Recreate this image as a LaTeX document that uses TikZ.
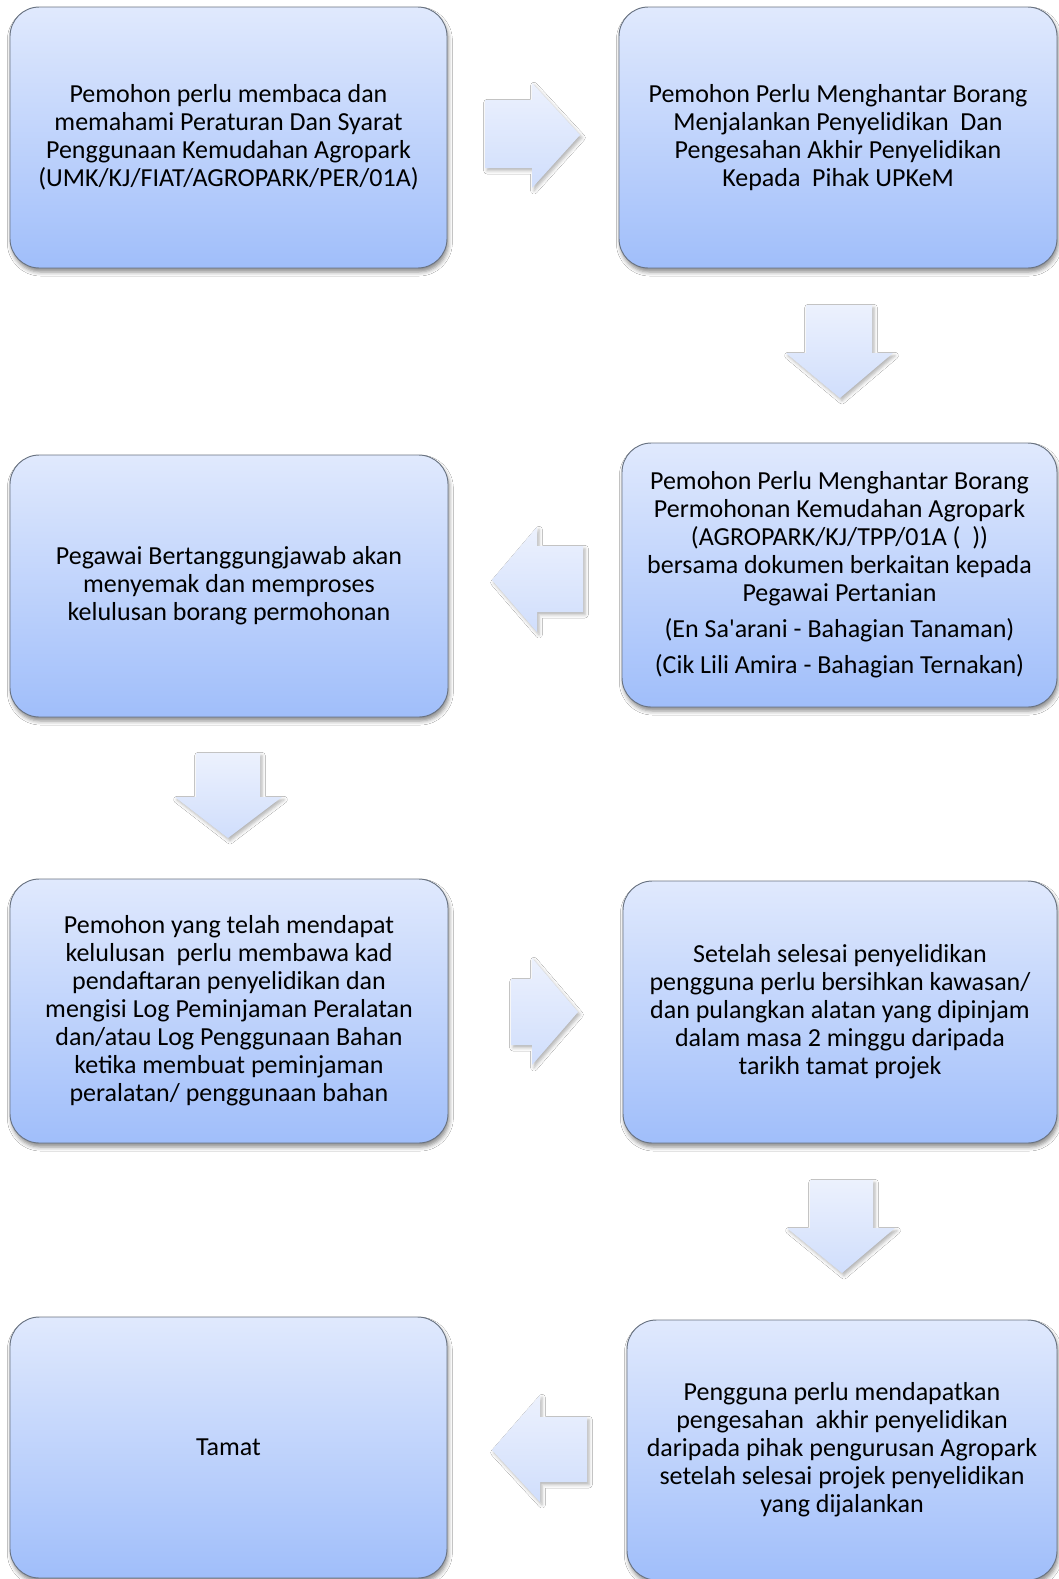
\documentclass[tikz,border=0pt]{standalone}
\usepackage{fontspec}
\setmainfont{Carlito}
\usetikzlibrary{shadows.blur}
\definecolor{boxtop}{RGB}{224,233,253}
\definecolor{boxbot}{RGB}{160,190,250}
\definecolor{boxline}{RGB}{105,115,130}
\definecolor{arrtop}{RGB}{236,241,253}
\definecolor{arrbot}{RGB}{208,222,252}
\tikzset{
  box/.style={draw=boxline, line width=0.7pt, rounded corners=22pt,
    top color=boxtop, bottom color=boxbot, align=center, inner sep=0pt, outer sep=0pt,
    font=\fontsize{19.5}{21}\selectfont,
    blur shadow={shadow xshift=1pt, shadow yshift=-3pt, shadow blur radius=3pt, shadow opacity=45}},
  blockarrow/.style={top color=arrtop, bottom color=arrbot, draw=none,
    blur shadow={shadow xshift=1.5pt, shadow yshift=-2pt, shadow blur radius=2.5pt, shadow opacity=30}},
}
\begin{document}
\begin{tikzpicture}[x=0.75pt, y=-0.75pt]
\useasboundingbox[fill=white] (0,0) rectangle (1059,1579);

\node[box, minimum width=327.75pt, minimum height=195.75pt] (b1) at (228.5,137.5)
 {Pemohon perlu membaca dan\\ memahami Peraturan Dan Syarat\\ Penggunaan Kemudahan Agropark\\ (UMK/KJ/FIAT/AGROPARK/PER/01A)};
\node[box, minimum width=328.5pt, minimum height=195.75pt] (b2) at (838,137.5)
 {Pemohon Perlu Menghantar Borang\\ Menjalankan Penyelidikan~ Dan\\ Pengesahan Akhir Penyelidikan\\ Kepada~ Pihak UPKeM};
\node[box, minimum width=326.25pt, minimum height=198pt] (b3) at (839.5,575)
 {Pemohon Perlu Menghantar Borang\\ Permohonan Kemudahan Agropark\\ (AGROPARK/KJ/TPP/01A (~~))\\ bersama dokumen berkaitan kepada\\ Pegawai Pertanian\\[6pt] (En Sa\textquotesingle arani - Bahagian Tanaman)\\[6pt] (Cik Lili Amira - Bahagian Ternakan)};
\node[box, minimum width=328.5pt, minimum height=196.5pt] (b4) at (229,586)
 {Pegawai Bertanggungjawab akan\\ menyemak dan memproses\\ kelulusan borang permohonan};
\node[box, minimum width=328.5pt, minimum height=198pt] (b5) at (229,1011)
 {Pemohon yang telah mendapat\\ kelulusan~ perlu membawa kad\\ pendaftaran penyelidikan dan\\ mengisi Log Peminjaman Peralatan\\ dan/atau Log Penggunaan Bahan\\ ketika membuat peminjaman\\ peralatan/ penggunaan bahan};
\node[box, minimum width=325.5pt, minimum height=196.5pt] (b6) at (840,1012)
 {Setelah selesai penyelidikan\\ pengguna perlu bersihkan kawasan/\\ dan pulangkan alatan yang dipinjam\\ dalam masa 2 minggu daripada\\ tarikh tamat projek};
\node[box, minimum width=327.75pt, minimum height=195.75pt] (b7) at (228.5,1447.5)
 {Tamat};
\node[box, minimum width=322.5pt, minimum height=195pt] (b8) at (842,1450)
 {Pengguna perlu mendapatkan\\ pengesahan~ akhir penyelidikan\\ daripada pihak pengurusan Agropark\\ setelah selesai projek penyelidikan\\ yang dijalankan};

% block arrows
\path[blockarrow] (485,100) -- (532,100) -- (532,83) -- (580,135) -- (532,188) -- (532,168) -- (485,168) -- cycle;
\path[blockarrow] (806,305) -- (872,305) -- (872,353) -- (893,353) -- (840,398) -- (786,353) -- (806,353) -- cycle;
\path[blockarrow] (583,546) -- (537,546) -- (537,527) -- (492,580) -- (537,632) -- (537,612) -- (583,612) -- cycle;
\path[blockarrow] (196,753) -- (260,753) -- (260,797) -- (282,797) -- (228,838) -- (175,797) -- (196,797) -- cycle;
\path[blockarrow] (511,979) -- (532,979) -- (532,958) -- (578,1012) -- (532,1065) -- (532,1045) -- (511,1045) -- cycle;
\path[blockarrow] (810,1180) -- (873,1180) -- (873,1228) -- (895,1228) -- (842,1273) -- (787,1228) -- (810,1228) -- cycle;
\path[blockarrow] (587,1417) -- (540,1417) -- (540,1395) -- (492,1450) -- (540,1502) -- (540,1482) -- (587,1482) -- cycle;
\end{tikzpicture}
\end{document}
